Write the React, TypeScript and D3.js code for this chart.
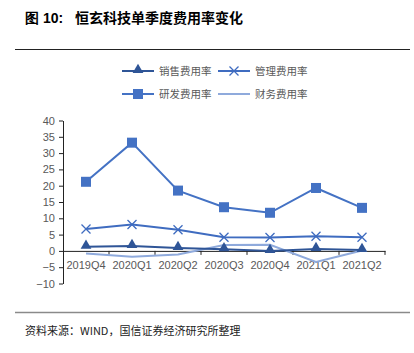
import { useRef, useEffect } from 'react';
import * as d3 from 'd3';

/* ── data ────────────────────────────────────────────────────── */
const quarters = ['2019Q4', '2020Q1', '2020Q2', '2020Q3', '2020Q4', '2021Q1', '2021Q2'];
const salesRate = [1.3, 1.5, 0.9, 0.5, 0.0, 0.6, 0.3];
const adminRate = [6.7, 8.1, 6.5, 4.2, 4.1, 4.5, 4.2];
const rdRate = [21.2, 33.2, 18.5, 13.4, 11.7, 19.3, 13.2];
const financeRate = [-0.8, -1.8, -1.1, 1.8, 1.9, -3.4, 0.1];
const yTicks = [40, 35, 30, 25, 20, 15, 10, 5, 0, -5, -10];

const CJK = '"Noto Sans CJK SC", sans-serif';
const LATIN = '"Liberation Sans", Arial, sans-serif';

const SERIES = [
  { name: '销售费用率', values: salesRate, color: '#2F5597', marker: 'triangle' },
  { name: '管理费用率', values: adminRate, color: '#3F6CC0', marker: 'cross' },
  { name: '研发费用率', values: rdRate, color: '#4472C4', marker: 'square' },
  { name: '财务费用率', values: financeRate, color: '#8FAADC', marker: 'none' },
];

function drawMarker(g, type, cx, cy, color) {
  if (type === 'square') {
    g.append('rect')
      .attr('x', cx - 5).attr('y', cy - 5)
      .attr('width', 10).attr('height', 10)
      .attr('fill', color);
  } else if (type === 'triangle') {
    g.append('path')
      .attr('d', d3.symbol(d3.symbolTriangle, 50)())
      .attr('transform', `translate(${cx},${cy - 1})`)
      .attr('fill', color);
  } else if (type === 'cross') {
    g.append('path')
      .attr('d', `M${cx - 4.5},${cy - 4.5}L${cx + 4.5},${cy + 4.5}M${cx - 4.5},${cy + 4.5}L${cx + 4.5},${cy - 4.5}`)
      .attr('stroke', color).attr('stroke-width', 1.3).attr('fill', 'none');
  }
}

export default function App() {
  const svgRef = useRef(null);

  useEffect(() => {
    const svg = d3.select(svgRef.current);
    svg.selectAll('*').remove();

    const W = 414, H = 353;
    svg.attr('width', W).attr('height', H);
    svg.append('rect').attr('width', W).attr('height', H).attr('fill', '#fff');

    // Title + rules
    svg.append('text')
      .attr('x', 25).attr('y', 23)
      .style('font-family', LATIN).style('font-size', '14px').style('font-weight', 'bold')
      .attr('fill', '#000')
      .text('图 10:');
    svg.append('text')
      .attr('x', 75).attr('y', 23)
      .style('font-family', CJK).style('font-size', '14px').style('font-weight', 'bold')
      .attr('fill', '#000')
      .text('恒玄科技单季度费用率变化');
    svg.append('line')
      .attr('x1', 15).attr('x2', 410).attr('y1', 49.5).attr('y2', 49.5)
      .attr('stroke', '#222').attr('stroke-width', 1);
    svg.append('line')
      .attr('x1', 15).attr('x2', 410).attr('y1', 312.5).attr('y2', 312.5)
      .attr('stroke', '#8a8a8a').attr('stroke-width', 1.5);
    svg.append('text')
      .attr('x', 25).attr('y', 335)
      .style('font-family', CJK).style('font-size', '11px')
      .attr('fill', '#222')
      .text('资料来源：WIND，国信证券经济研究所整理');

    // Scales
    const x = d3.scaleBand().domain(quarters).range([63, 385]);
    const y = d3.scaleLinear().domain([-10, 40]).range([283.5, 120.5]);

    const g = svg.append('g');

    // Y axis
    const yAxis = g.append('g')
      .attr('transform', 'translate(63,0)')
      .call(d3.axisLeft(y).tickValues(yTicks).tickSize(4).tickSizeOuter(0).tickFormat(d3.format('d')));
    yAxis.select('.domain').attr('stroke', '#222');
    yAxis.selectAll('line').attr('stroke', '#222');
    yAxis.selectAll('text')
      .attr('x', -8)
      .style('font-family', LATIN).style('font-size', '11px').attr('fill', '#595959');

    // X axis at zero
    const xAxis = g.append('g')
      .attr('transform', `translate(0,${y(0)})`)
      .call(d3.axisBottom(x).tickSize(0).tickSizeOuter(0));
    xAxis.select('.domain').attr('stroke', '#222');
    xAxis.selectAll('text')
      .attr('y', 10)
      .style('font-family', LATIN).style('font-size', '11px').attr('fill', '#595959');
    // tick marks on band boundaries
    quarters.concat(['end']).forEach((q, i) => {
      const bx = q === 'end' ? x.range()[1] : x(q);
      if (i === 0) return;
      g.append('line')
        .attr('x1', bx).attr('x2', bx)
        .attr('y1', y(0)).attr('y2', y(0) + 4)
        .attr('stroke', '#222');
    });

    // Lines
    const cx = (q) => x(q) + x.bandwidth() / 2;
    SERIES.slice().reverse().forEach((s) => {
      const line = d3.line().x((d, i) => cx(quarters[i])).y((d) => y(d));
      g.append('path')
        .datum(s.values)
        .attr('d', line)
        .attr('fill', 'none')
        .attr('stroke', s.color)
        .attr('stroke-width', 2);
      s.values.forEach((v, i) => drawMarker(g, s.marker, cx(quarters[i]), y(v), s.color));
    });

    // Legend
    const legendPos = [[122, 71], [218, 71], [122, 94], [218, 94]];
    SERIES.forEach((s, i) => {
      const [lx, ly] = legendPos[i];
      const lg = svg.append('g');
      lg.append('line')
        .attr('x1', lx).attr('x2', lx + 32).attr('y1', ly).attr('y2', ly)
        .attr('stroke', s.color).attr('stroke-width', 2);
      drawMarker(lg, s.marker, lx + 16, ly, s.color);
      lg.append('text')
        .attr('x', lx + 37).attr('y', ly + 4)
        .style('font-family', CJK).style('font-size', '10.5px')
        .attr('fill', '#595959')
        .text(s.name);
    });
  }, []);

  return <svg ref={svgRef} style={{ position: 'absolute', left: 0, top: 0 }}></svg>;
}
